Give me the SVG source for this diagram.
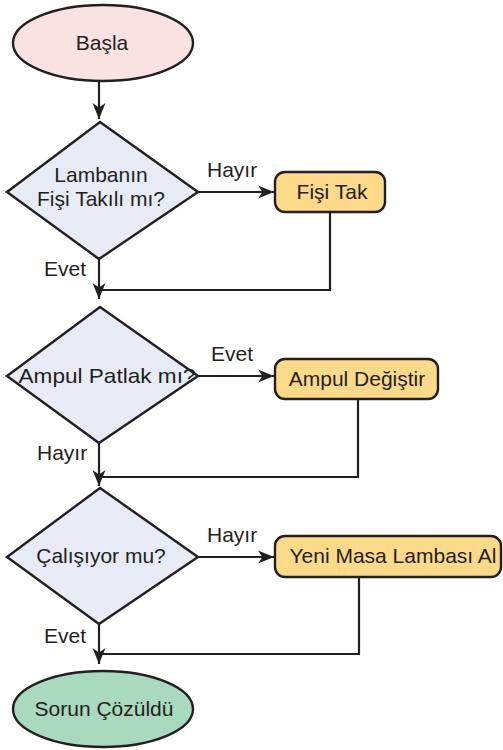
<svg xmlns="http://www.w3.org/2000/svg" width="503" height="750" viewBox="0 0 503 750">
  <defs>
    <marker id="arrow" markerUnits="userSpaceOnUse" markerWidth="18" markerHeight="14" refX="16" refY="7" orient="auto">
      <path d="M16,7 L0,0.5 L4.5,7 L0,13.5 Z" fill="#231f20"/>
    </marker>
  </defs>
  <style>
    text { font-family: "Liberation Sans", Arial, sans-serif; font-size: 21px; fill: #231f20; }
    .c { text-anchor: middle; }
    .shape { stroke: #231f20; stroke-width: 2.4; }
    .start { fill: #fbe2e2; }
    .end { fill: #a9d9bf; }
    .decision { fill: #e6ebf6; }
    .process { fill: #fdd98a; }
    .edge { fill: none; stroke: #231f20; stroke-width: 2.2; }
  </style>
  <rect width="503" height="750" fill="#ffffff"/>

  <!-- connectors -->
  <g id="connectors">
    <path class="edge" d="M99,81 V119" marker-end="url(#arrow)"/>
    <path class="edge" d="M198,192 H274" marker-end="url(#arrow)"/>
    <path class="edge" d="M99,259 V299" marker-end="url(#arrow)"/>
    <path class="edge" d="M330,212 V290 H99"/>
    <path class="edge" d="M198,376 H274" marker-end="url(#arrow)"/>
    <path class="edge" d="M99,443 V486" marker-end="url(#arrow)"/>
    <path class="edge" d="M358,399 V477 H99"/>
    <path class="edge" d="M198,557 H274" marker-end="url(#arrow)"/>
    <path class="edge" d="M99,624 V664" marker-end="url(#arrow)"/>
    <path class="edge" d="M359,577 V654 H99"/>
    <text x="207" y="177">Hayır</text>
    <text x="44" y="276">Evet</text>
    <text x="211" y="361">Evet</text>
    <text x="37" y="460">Hayır</text>
    <text x="207" y="542">Hayır</text>
    <text x="44" y="643">Evet</text>
  </g>

  <g id="start">
    <ellipse class="shape start" cx="103" cy="43" rx="90" ry="38"/>
    <text class="c" x="102" y="50">Başla</text>
  </g>

  <g id="q-plug">
    <polygon class="shape decision" points="100,122 198,192 99,259 7,192"/>
    <text class="c" x="101" y="182">Lambanın</text>
    <text class="c" x="101" y="206">Fişi Takılı mı?</text>
  </g>

  <g id="plug-in">
    <rect class="shape process" x="275" y="172" width="110" height="40" rx="10"/>
    <text class="c" x="332" y="199">Fişi Tak</text>
  </g>

  <g id="q-bulb">
    <polygon class="shape decision" points="100,307 198,376 99,443 7,376"/>
    <text class="c" x="107" y="383" textLength="177" lengthAdjust="spacingAndGlyphs">Ampul Patlak mı?</text>
  </g>

  <g id="replace-bulb">
    <rect class="shape process" x="275" y="359" width="163" height="40" rx="10"/>
    <text class="c" x="357" y="386">Ampul Değiştir</text>
  </g>

  <g id="q-works">
    <polygon class="shape decision" points="100,488 198,557 99,624 7,557"/>
    <text class="c" x="101" y="563">Çalışıyor mu?</text>
  </g>

  <g id="new-lamp">
    <rect class="shape process" x="275" y="536" width="226" height="41" rx="10"/>
    <text class="c" x="393" y="563">Yeni Masa Lambası Al</text>
  </g>

  <g id="solved">
    <ellipse class="shape end" cx="103" cy="709" rx="90" ry="38"/>
    <text class="c" x="104" y="716">Sorun Çözüldü</text>
  </g>
</svg>
